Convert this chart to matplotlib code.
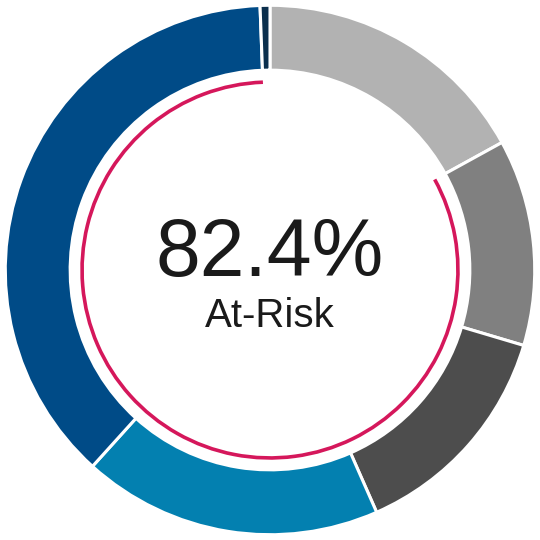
import matplotlib
matplotlib.use("Agg")
import matplotlib.pyplot as plt
from matplotlib.patches import Arc

# Data (clockwise from 12 o'clock)
segments = ["Low", "Moderate", "Elevated", "High", "Very High", "Other"]
shares = [17.0, 12.6, 13.8, 18.3, 37.7, 0.6]
colors = ["#b2b2b2", "#808080", "#4d4d4d", "#0380b0", "#004b87", "#0b2f4d"]
at_risk_idx = [1, 2, 3, 4]
at_risk_pct = 82.4
center_label = "At-Risk"

plt.rcParams["font.family"] = ["Liberation Sans", "DejaVu Sans"]

fig = plt.figure(figsize=(5.4, 5.4), dpi=100)
ax = fig.add_axes([0, 0, 1, 1])

ax.pie(shares, colors=colors, startangle=90, counterclock=False, radius=1.0,
       wedgeprops=dict(width=0.245, edgecolor="white", linewidth=2.2))

# red arc over the at-risk segments
total = sum(shares)
start_frac = sum(shares[:at_risk_idx[0]]) / total
end_frac = sum(shares[:at_risk_idx[-1] + 1]) / total
theta_end = 90 - 360 * start_frac
theta_start = 90 - 360 * end_frac
ax.add_patch(Arc((0, 0), 2 * 0.71, 2 * 0.71, theta1=theta_start, theta2=theta_end,
                 color="#d5175b", linewidth=2.6))

ax.text(0, 0.055, f"{at_risk_pct}%", ha="center", va="center", fontsize=58, color="#1a1a1a")
ax.text(0, -0.175, center_label, ha="center", va="center", fontsize=29, color="#1a1a1a")

ax.set_xlim(-1.02, 1.02)
ax.set_ylim(-1.02, 1.02)
ax.set_aspect("equal")
ax.axis("off")

fig.savefig("out.png", dpi=100, facecolor="white")
